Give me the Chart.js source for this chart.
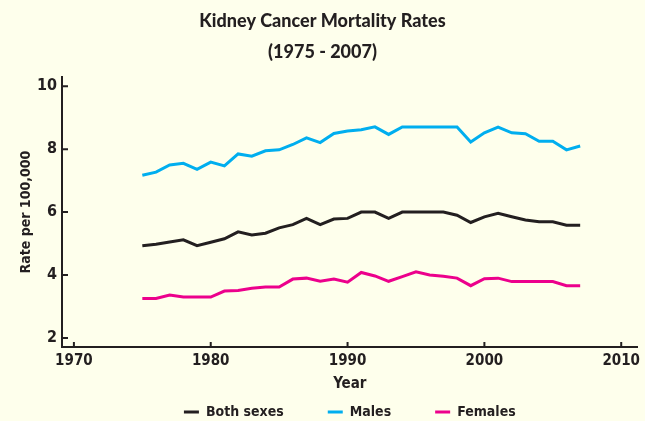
<!DOCTYPE html>
<html>
<head>
<meta charset="utf-8">
<script src="https://cdn.jsdelivr.net/npm/chart.js@4"></script>
<style>
  html, body { margin: 0; padding: 0; background: #feffec; }
  #wrap { width: 645px; height: 421px; }
</style>
</head>
<body>
<div id="wrap"><canvas id="chart" width="645" height="421"></canvas></div>
<script>
const years = [1975, 1976, 1977, 1978, 1979, 1980, 1981, 1982, 1983, 1984, 1985,
               1986, 1987, 1988, 1989, 1990, 1991, 1992, 1993, 1994, 1995, 1996,
               1997, 1998, 1999, 2000, 2001, 2002, 2003, 2004, 2005, 2006, 2007];
const bothSexes = [4.93, 4.98, 5.05, 5.12, 4.93, 5.04, 5.15, 5.37, 5.27, 5.33, 5.5,
                   5.6, 5.8, 5.6, 5.78, 5.8, 6.0, 6.0, 5.8, 6.0, 6.0, 6.0,
                   6.0, 5.9, 5.67, 5.85, 5.96, 5.85, 5.75, 5.69, 5.69, 5.58, 5.58];
const males = [7.17, 7.27, 7.5, 7.55, 7.36, 7.59, 7.47, 7.85, 7.78, 7.95, 7.98,
               8.15, 8.36, 8.21, 8.5, 8.58, 8.62, 8.71, 8.47, 8.71, 8.71, 8.71,
               8.71, 8.71, 8.23, 8.52, 8.7, 8.52, 8.49, 8.25, 8.25, 7.98, 8.1];
const females = [3.25, 3.25, 3.36, 3.3, 3.3, 3.3, 3.49, 3.51, 3.58, 3.62, 3.62,
                 3.87, 3.9, 3.8, 3.87, 3.77, 4.08, 3.97, 3.8, 3.95, 4.1, 4.0,
                 3.96, 3.9, 3.66, 3.88, 3.9, 3.79, 3.79, 3.79, 3.79, 3.66, 3.66];
const xTicks = [1970, 1980, 1990, 2000, 2010];
const yTicks = [2, 4, 6, 8, 10];

const axisColor = "#231f20";
const narrow = "'Liberation Sans Narrow', 'DejaVu Sans Condensed', sans-serif";
const titleFont = "Lato, 'Open Sans', sans-serif";

const toPoints = vals => vals.map((v, i) => ({ x: years[i], y: v }));

// short tick marks pointing into the plot
const innerTicks = {
    id: "innerTicks",
    afterDatasetsDraw(chart) {
        const { ctx, scales: { x, y } } = chart;
        ctx.save();
        ctx.strokeStyle = axisColor;
        ctx.lineWidth = 2;
        ctx.beginPath();
        xTicks.forEach(v => {
            const px = x.getPixelForValue(v);
            ctx.moveTo(px, x.top);
            ctx.lineTo(px, x.top - 5);
        });
        yTicks.forEach(v => {
            const py = y.getPixelForValue(v);
            ctx.moveTo(y.right, py);
            ctx.lineTo(y.right + 6, py);
        });
        ctx.stroke();
        ctx.restore();
    }
};

// wide gaps between legend items without the tall legend box
const legendTweak = {
    id: "legendTweak",
    beforeLayout(chart) {
        const lg = chart.legend;
        if (lg && !lg._tweaked) {
            const fit = lg.fit.bind(lg);
            lg.fit = function () { fit(); this.height = 24; };
            lg._tweaked = true;
        }
    },
    afterLayout(chart) {
        chart.legend.top -= 36;
        chart.legend.bottom = chart.height;
    }
};

new Chart(document.getElementById("chart"), {
    type: "line",
    data: {
        datasets: [
            { label: "Both sexes", data: toPoints(bothSexes), borderColor: "#231f20", backgroundColor: "#231f20" },
            { label: "Males", data: toPoints(males), borderColor: "#00aeef", backgroundColor: "#00aeef" },
            { label: "Females", data: toPoints(females), borderColor: "#ec008c", backgroundColor: "#ec008c" }
        ]
    },
    options: {
        responsive: false,
        animation: false,
        layout: { padding: 0 },
        elements: {
            line: { borderWidth: 3, tension: 0 },
            point: { radius: 0 }
        },
        plugins: {
            title: {
                display: true,
                text: ["Kidney Cancer Mortality Rates", "(1975 - 2007)"],
                color: axisColor,
                font: { family: titleFont, size: 18, weight: 900, lineHeight: 1.7 },
                padding: { top: 6, bottom: 10 }
            },
            legend: {
                position: "bottom",
                fullSize: false,
                labels: {
                    color: axisColor,
                    boxWidth: 15,
                    boxHeight: 0,
                    padding: 44,
                    font: { family: narrow, size: 14, weight: "bold" }
                }
            },
            tooltip: { enabled: false }
        },
        scales: {
            x: {
                type: "linear",
                min: 1969.13,
                max: 2011.2,
                afterBuildTicks: s => { s.ticks = xTicks.map(v => ({ value: v })); },
                afterFit: s => { s.height = 50; },
                grid: { display: false, drawTicks: false },
                border: { color: axisColor, width: 2 },
                ticks: {
                    color: axisColor,
                    padding: 5,
                    maxRotation: 0,
                    font: { family: narrow, size: 15, weight: "bold" },
                    callback: v => String(v)
                },
                title: {
                    display: true,
                    text: "Year",
                    color: axisColor,
                    padding: { top: 0, bottom: 4 },
                    font: { family: narrow, size: 15, weight: "bold" }
                }
            },
            y: {
                min: 1.71,
                max: 10.29,
                afterBuildTicks: s => { s.ticks = yTicks.map(v => ({ value: v })); },
                afterFit: s => { s.width = 62; },
                grid: { display: false, drawTicks: false },
                border: { color: axisColor, width: 2 },
                ticks: {
                    color: axisColor,
                    padding: 5,
                    font: { family: narrow, size: 16, weight: "bold" }
                },
                title: {
                    display: true,
                    text: "Rate per 100,000",
                    color: axisColor,
                    padding: { top: 18, bottom: 0 },
                    font: { family: narrow, size: 14, weight: "bold" }
                }
            }
        }
    },
    plugins: [innerTicks, legendTweak]
});
</script>
</body>
</html>
